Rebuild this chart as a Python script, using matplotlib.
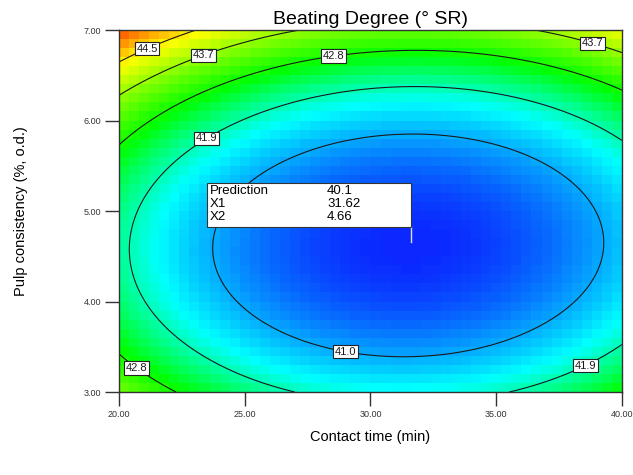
import numpy as np
import matplotlib
matplotlib.use("Agg")
import matplotlib.pyplot as plt
from matplotlib.colors import LinearSegmentedColormap
from matplotlib.patches import Rectangle

plt.rcParams['font.family'] = ['Liberation Sans', 'DejaVu Sans']

# factor ranges and ticks
x_range = [20.0, 40.0]
y_range = [3.0, 7.0]
x_ticks = [20, 25, 30, 35, 40]
y_ticks = [3, 4, 5, 6, 7]

# fitted quadratic response surface
z_min = 40.13
x_opt = 31.5
y_opt = 4.62
coef_xx = 0.0144
coef_yy = 0.575
coef_xy = -0.0044

contour_levels = [41.0, 41.9, 42.8, 43.7, 44.5]
# where the level labels sit
label_spots = [(21.0, 6.87), (23.3, 6.76), (38.9, 6.91), (28.5, 6.78),
               (20.7, 3.27), (23.4, 5.84), (38.5, 3.32), (29.0, 3.44)]

# prediction flag
pred_value = 40.1
pred_x1 = 31.62
pred_x2 = 4.66


def response(x, y):
    dx = x - x_opt
    dy = y - y_opt
    return z_min + coef_xx * dx**2 + coef_yy * dy**2 + coef_xy * dx * dy


cmap = LinearSegmentedColormap.from_list(
    "dx", [(0.0, "#0a28ff"), (0.25, "#00ffff"), (0.45, "#00ff00"),
           (0.75, "#ffff00"), (1.0, "#ff0000")])

fig = plt.figure(figsize=(6.33, 4.75), dpi=100)
ax = fig.add_axes([0.188, 0.1747, 0.7946, 0.7621])

# coarse colour cells like the original render
xe = np.linspace(x_range[0], x_range[1], 51)
ye = np.linspace(y_range[0], y_range[1], 41)
xc = (xe[:-1] + xe[1:]) / 2
yc = (ye[:-1] + ye[1:]) / 2
XC, YC = np.meshgrid(xc, yc)
ax.pcolormesh(xe, ye, response(XC, YC), cmap=cmap, vmin=z_min, vmax=45.8,
              shading="flat")

# fine grid for contour lines
xf = np.linspace(x_range[0], x_range[1], 300)
yf = np.linspace(y_range[0], y_range[1], 300)
XF, YF = np.meshgrid(xf, yf)
cs = ax.contour(XF, YF, response(XF, YF), levels=contour_levels,
                colors="#1a1a1a", linewidths=0.8)
labels = ax.clabel(cs, fmt="%.1f", inline=False, fontsize=8,
                   manual=label_spots)
for t in labels:
    t.set_rotation(0)
    t.set_bbox(dict(facecolor="white", edgecolor="#222222", pad=1.2,
                    linewidth=0.8))

# prediction box
bx0, bx1 = 23.5, pred_x1
by0, by1 = 4.82, 5.31
ax.plot([pred_x1, pred_x1], [pred_x2, by0], color="#dddddd", lw=1, zorder=5)
ax.add_patch(Rectangle((bx0, by0), bx1 - bx0, by1 - by0, facecolor="white",
                       edgecolor="#333333", lw=0.8, zorder=6))
rows = [("Prediction", f"{pred_value:.1f}"), ("X1", f"{pred_x1:.2f}"),
        ("X2", f"{pred_x2:.2f}")]
for i, (name, val) in enumerate(rows):
    yy = 5.225 - i * 0.145
    ax.text(bx0 + 0.12, yy, name, fontsize=9.5, va="center", zorder=7)
    ax.text(28.27, yy, val, fontsize=9.5, va="center", zorder=7)

ax.set_xlim(x_range)
ax.set_ylim(y_range)
ax.set_xticks(x_ticks)
ax.set_yticks(y_ticks)
ax.set_xticklabels([f"{v:.2f}" for v in x_ticks])
ax.set_yticklabels([f"{v:.2f}" for v in y_ticks])
ax.tick_params(direction="out", length=10, width=1, colors="#333333",
               labelsize=6.5, pad=3)
for s in ax.spines.values():
    s.set_color("#333333")
    s.set_linewidth(1)

ax.set_title("Beating Degree (° SR)", fontsize=14, pad=4)
ax.set_xlabel("Contact time (min)", fontsize=10.5, labelpad=8)
ax.set_ylabel("Pulp consistency (%, o.d.)", fontsize=10.5, labelpad=40)

fig.savefig("out.png", dpi=100)
